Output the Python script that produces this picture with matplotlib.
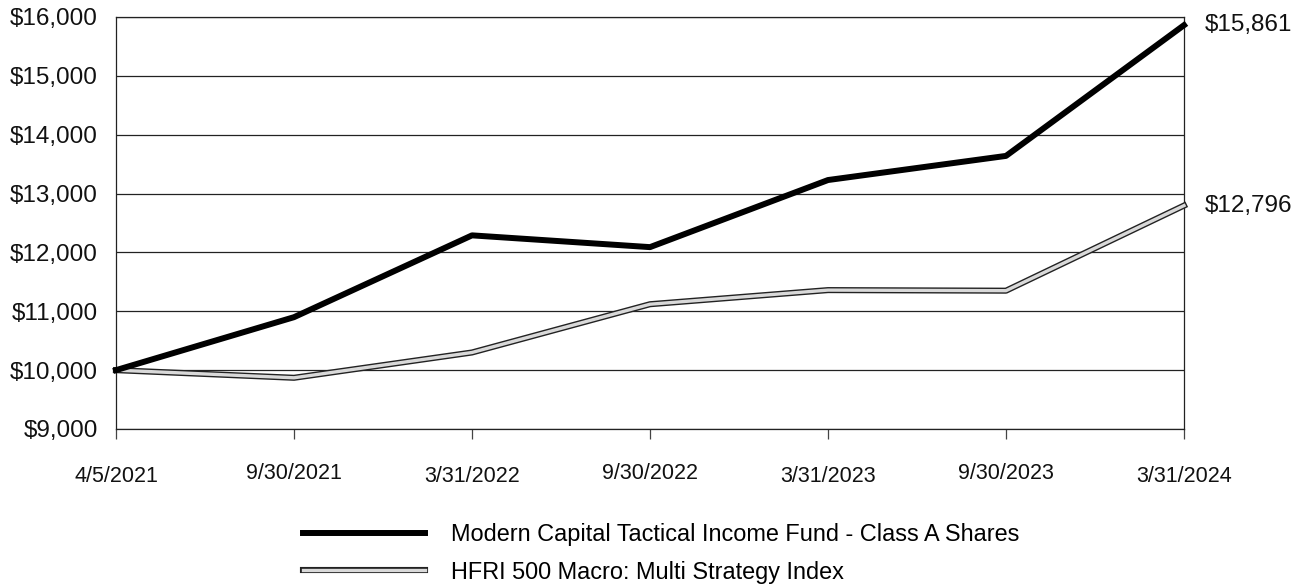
import matplotlib.pyplot as plt
import matplotlib.patheffects as pe
from matplotlib.ticker import FuncFormatter

plt.rcParams['font.family'] = ['Liberation Sans', 'DejaVu Sans']

# Growth of $10,000
dates = ['4/5/2021', '9/30/2021', '3/31/2022', '9/30/2022',
         '3/31/2023', '9/30/2023', '3/31/2024']
fund = [10000, 10900, 12290, 12090, 13230, 13640, 15861]
index = [10000, 9870, 10300, 11120, 11360, 11350, 12796]
fund_label = 'Modern Capital Tactical Income Fund - Class A Shares'
index_label = 'HFRI 500 Macro: Multi Strategy Index'

x = list(range(len(dates)))

fig = plt.figure(figsize=(12.94, 5.84), dpi=100)
ax = fig.add_axes([116 / 1294, 1 - 429 / 584, (1184 - 116) / 1294, (429 - 17) / 584])

# double line for the index: black outline with light grey core
ax.plot(x, index, color='#d9d9d9', lw=2.4, label=index_label, clip_on=False, zorder=3,
        path_effects=[pe.Stroke(linewidth=4.4, foreground='#222222'), pe.Normal()])
ax.plot(x, fund, color='black', lw=4.3, label=fund_label, clip_on=False, zorder=4)

ax.set_xlim(0, len(dates) - 1)
ax.set_ylim(9000, 16000)
ax.set_yticks(range(9000, 16001, 1000))
ax.yaxis.set_major_formatter(FuncFormatter(lambda v, p: f'${v:,.0f}'))
ax.grid(axis='y', color='#222222', lw=0.9)
ax.set_axisbelow(True)
for s in ax.spines.values():
    s.set_color('#222222')
    s.set_linewidth(0.9)

ax.tick_params(axis='y', length=0, pad=13, labelsize=17.5, colors='#111111')
ax.set_xticks(x)
ax.set_xticklabels(dates)
ax.tick_params(axis='x', length=7, width=0.9, color='#444444', labelsize=15.5, labelcolor='#111111')
# staggered date labels
for i, t in enumerate(ax.xaxis.get_major_ticks()):
    t.set_pad(19.5 if i % 2 == 0 else 17.5)

# ending values on the right
for series in (fund, index):
    ax.annotate(f'${series[-1]:,}', xy=(x[-1], series[-1]), xytext=(15, 0),
                textcoords='offset points', va='center', ha='left',
                fontsize=17.5, color='#111111', annotation_clip=False)

handles, labels = ax.get_legend_handles_labels()
fig.legend(handles[::-1], labels[::-1], loc='upper left',
           bbox_to_anchor=(303 / 1294, 1 - 523 / 584), frameon=False,
           fontsize=16.9, handlelength=5.2, handletextpad=1.1, labelspacing=0.62,
           borderpad=0, borderaxespad=0)

fig.savefig('out.png', dpi=100)
